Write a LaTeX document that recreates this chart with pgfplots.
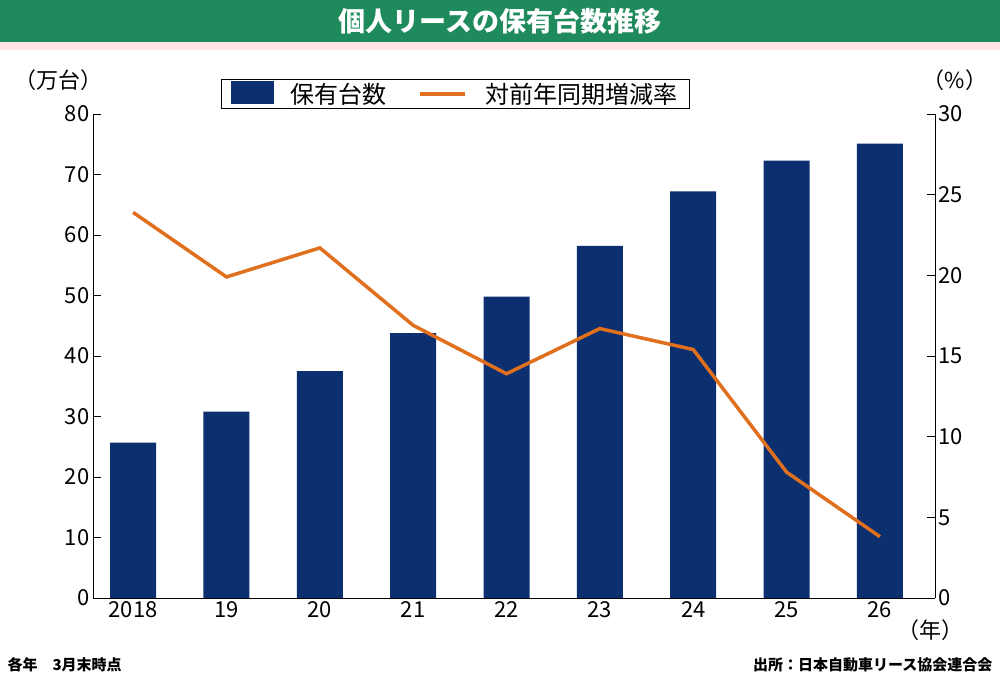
\documentclass[border=0pt]{standalone}
\usepackage{pgfplots}
\pgfplotsset{compat=1.18}
\usepackage{fontspec}
\setmainfont{Noto Sans CJK JP}
\newfontfamily\cjkb{Noto Sans CJK JP}[BoldFont={* Bold}]
\definecolor{navy}{HTML}{0B2F6F}
\definecolor{org}{HTML}{E0701E}
\definecolor{grn}{HTML}{1F8A5B}
\begin{document}
\begin{tikzpicture}[x=1pt,y=1pt]
\fill[white] (0,0) rectangle (1000,684);
\fill[grn] (0,642) rectangle (1000,684);
\fill[pink!40] (0,634) rectangle (1000,642);
\node[white,font=\bfseries\fontsize{27}{30}\selectfont] at (500,663) {個人リースの保有台数推移};
\node[font=\fontsize{22}{24}\selectfont] at (58,604) {（万台）};
\node[font=\fontsize{22}{24}\selectfont] at (955,604) {（\%）};
\node[font=\fontsize{22}{24}\selectfont] at (930,54) {（年）};
\node[anchor=west,font=\bfseries\fontsize{15}{17}\selectfont] at (4,19) {各年　3月末時点};
\node[anchor=east,font=\bfseries\fontsize{15}{17}\selectfont] at (996,19) {出所：日本自動車リース協会連合会};
\begin{axis}[at={(93pt,86pt)},anchor=south west,scale only axis,width=842pt,height=484pt,
  xmin=-0.43,xmax=8.59,ymin=0,ymax=80,ytick={0,10,...,80},
  xtick={0,...,8},xticklabels={2018,19,20,21,22,23,24,25,26},
  axis y line*=left,axis x line*=bottom,
  tick style={black,line width=0.8pt},tick align=inside,major tick length=8pt,
  xtick style={draw=none},
  ticklabel style={font=\fontsize{22}{24}\selectfont},
  /pgf/number format/assume math mode=true,
  line width=0.8pt]
\addplot[ybar,bar width=46pt,fill=navy,draw=none] coordinates {(0,25.7)(1,30.8)(2,37.5)(3,43.8)(4,49.8)(5,58.2)(6,67.2)(7,72.3)(8,75.1)};
\end{axis}
\begin{axis}[at={(93pt,86pt)},anchor=south west,scale only axis,width=842pt,height=484pt,
  xmin=-0.43,xmax=8.59,ymin=0,ymax=30,ytick={0,5,...,30},
  axis y line*=right,axis x line=none,
  tick style={black,line width=0.8pt},tick align=inside,major tick length=8pt,
  ticklabel style={font=\fontsize{22}{24}\selectfont},
  /pgf/number format/assume math mode=true,
  line width=0.8pt,
  legend style={at={(0.152,1.01)},anchor=south west,legend columns=2,draw=black,line width=0.8pt,
    font=\fontsize{24}{26}\selectfont,inner xsep=10pt,inner ysep=2pt,
    /tikz/every even column/.append style={column sep=30pt}},
  legend image code/.code={}]
\addlegendimage{legend image code/.code={\fill[navy] (0pt,-10pt) rectangle (42pt,12pt);}}
\addlegendentry{\hspace{14pt}保有台数}
\addlegendimage{legend image code/.code={\draw[org,line width=4pt] (0pt,0pt) -- (45pt,0pt);}}
\addlegendentry{\hspace{16pt}対前年同期増減率}
\addplot[org,line width=3.5pt,mark=none] coordinates {(0,23.9)(1,19.9)(2,21.7)(3,16.9)(4,13.9)(5,16.7)(6,15.4)(7,7.8)(8,3.8)};
\end{axis}
\end{tikzpicture}
\end{document}
